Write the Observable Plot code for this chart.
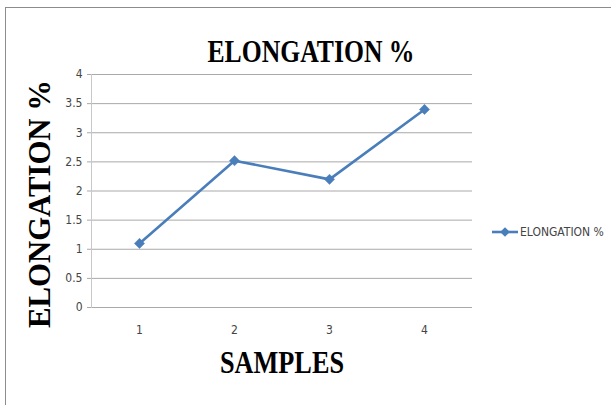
<!DOCTYPE html>
<html>
<head>
<meta charset="utf-8">
<script src="https://cdn.jsdelivr.net/npm/d3@7"></script>
<script src="https://cdn.jsdelivr.net/npm/@observablehq/plot@0.6"></script>
<style>
  html, body { margin: 0; padding: 0; background: #fff; }
  #chart svg { display: block; }
</style>
</head>
<body>
<div id="chart"></div>
<script>
// Elongation (%) measured on four samples
const samples = ["1", "2", "3", "4"];
const elongation = [1.1, 2.52, 2.2, 3.4];
const yTicks = [0, 0.5, 1, 1.5, 2, 2.5, 3, 3.5, 4];
const titleText = "ELONGATION %";
const xLabel = "SAMPLES";
const yLabel = "ELONGATION %";
const seriesName = "ELONGATION %";

const data = samples.map((s, i) => ({sample: s, value: elongation[i]}));

const blue = "#4a7ebb";
const grid = "#a9a9a9";
const tickFont = "'Liberation Sans Narrow', 'DejaVu Sans Condensed', 'Liberation Sans', sans-serif";
const serif = "'Liberation Serif', 'DejaVu Serif', serif";

const chart = Plot.plot({
  width: 611,
  height: 405,
  marginLeft: 91,
  marginRight: 139,
  marginTop: 74,
  marginBottom: 98,
  style: {background: "#fff", fontFamily: tickFont, fontSize: "12px", color: "#444"},
  x: {type: "point", domain: samples, padding: 0.5, label: null},
  y: {domain: [0, 4], ticks: yTicks, label: null},
  marks: [
    Plot.gridY(yTicks, {stroke: grid, strokeOpacity: 1}),
    Plot.axisY({ticks: yTicks, tickSize: 4, tickPadding: 5, stroke: grid, strokeOpacity: 1, fill: "#444", label: null, tickFormat: d => String(d)}),
    Plot.axisX({tickSize: 0, tickPadding: 18, fill: "#444", label: null}),
    Plot.frame({anchor: "left", stroke: "#c8c8c8"}),
    Plot.line(data, {x: "sample", y: "value", stroke: blue, strokeWidth: 2.6}),
    Plot.dot(data, {x: "sample", y: "value", symbol: "diamond2", r: 4.6, fill: blue, stroke: blue, strokeWidth: 0.5}),
    Plot.text([titleText], {text: d => d, frameAnchor: "top", textAnchor: "middle", dx: 29, dy: -35, fontFamily: serif, fontWeight: "bold", fontSize: 31, fill: "#000", className: "ttl"}),
    Plot.text([xLabel], {text: d => d, frameAnchor: "bottom", textAnchor: "middle", dx: 0, dy: 65, fontFamily: serif, fontWeight: "bold", fontSize: 31, fill: "#000", className: "xlab"}),
    Plot.text([yLabel], {text: d => d, frameAnchor: "left", textAnchor: "middle", dx: -51, dy: 13, rotate: -90, fontFamily: serif, fontWeight: "bold", fontSize: 31, fill: "#000", className: "ylab"})
  ]
});

document.getElementById("chart").appendChild(chart);

// Condensed look for the headings
const svg = d3.select(chart);
svg.selectAll(".ttl text").attr("textLength", 207).attr("lengthAdjust", "spacingAndGlyphs");
svg.selectAll(".xlab text").attr("textLength", 124).attr("lengthAdjust", "spacingAndGlyphs");
svg.selectAll(".ylab text").attr("textLength", 248).attr("lengthAdjust", "spacingAndGlyphs");

// Chart-area border (top and left edges visible)
svg.append("rect")
  .attr("x", 5.5).attr("y", 7.5)
  .attr("width", 700).attr("height", 500)
  .attr("fill", "none").attr("stroke", "#8c8c8c");

// Legend entry
const lg = svg.append("g").attr("transform", "translate(492,232)");
lg.append("line").attr("x1", 0).attr("x2", 26).attr("y1", 0).attr("y2", 0)
  .attr("stroke", blue).attr("stroke-width", 2.6);
lg.append("path").attr("d", d3.symbol(d3.symbolDiamond2, 60)())
  .attr("transform", "translate(13,0)").attr("fill", blue);
lg.append("text").attr("x", 28).attr("y", 0).attr("dy", "0.35em")
  .attr("text-anchor", "start")
  .attr("font-family", tickFont).attr("font-size", 12).attr("fill", "#444")
  .text(seriesName);
</script>
</body>
</html>
